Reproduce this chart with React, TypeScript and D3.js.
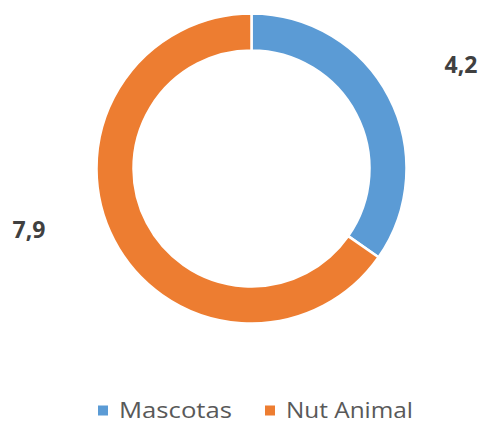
import React from "react";
import * as d3 from "d3";

const categories = ["Mascotas", "Nut Animal"];
const values = [4.2, 7.9];
const valueLabels = ["4,2", "7,9"];
const colors = ["#5B9BD5", "#ED7D31"];

const W = 483;
const H = 424;
const cx = 251.5;
const cy = 168.5;
const outerR = 155;
const innerR = 118;
// label placement (x, y) tuned to match Excel's outside-end labels
const labelPos: [number, number][] = [
  [461, 64],
  [29, 229],
];

export default function App() {
  const pie = d3.pie<number>().sort(null).value((d) => d);
  const arcs = pie(values);
  const arc = d3.arc<d3.PieArcDatum<number>>().innerRadius(innerR).outerRadius(outerR);

  const legendItems = [
    { x: 98, textX: 119, len: 113 },
    { x: 265, textX: 286, len: 127 },
  ];

  return (
    <svg width={W} height={H} style={{ position: "absolute", left: 0, top: 0 }}>
      <rect width={W} height={H} fill="#fff" />
      <g transform={`translate(${cx},${cy})`}>
        {arcs.map((a, i) => (
          <path key={i} d={arc(a) || ""} fill={colors[i]} stroke="#fff" strokeWidth={2.5} />
        ))}
      </g>
      {valueLabels.map((t, i) => (
        <text
          key={t}
          x={labelPos[i][0]}
          y={labelPos[i][1]}
          textAnchor="middle"
          dominantBaseline="central"
          fontFamily="'Open Sans', sans-serif"
          fontWeight="bold"
          fontSize={23}
          fill="#404040"
        >
          {t}
        </text>
      ))}
      {categories.map((c, i) => (
        <g key={c}>
          <rect x={legendItems[i].x} y={405.5} width={10} height={10} fill={colors[i]} />
          <text
            x={legendItems[i].textX}
            y={417.5}
            fontFamily="'Open Sans', sans-serif"
            fontSize={22}
            textLength={legendItems[i].len}
            lengthAdjust="spacingAndGlyphs"
            fill="#595959"
          >
            {c}
          </text>
        </g>
      ))}
    </svg>
  );
}
